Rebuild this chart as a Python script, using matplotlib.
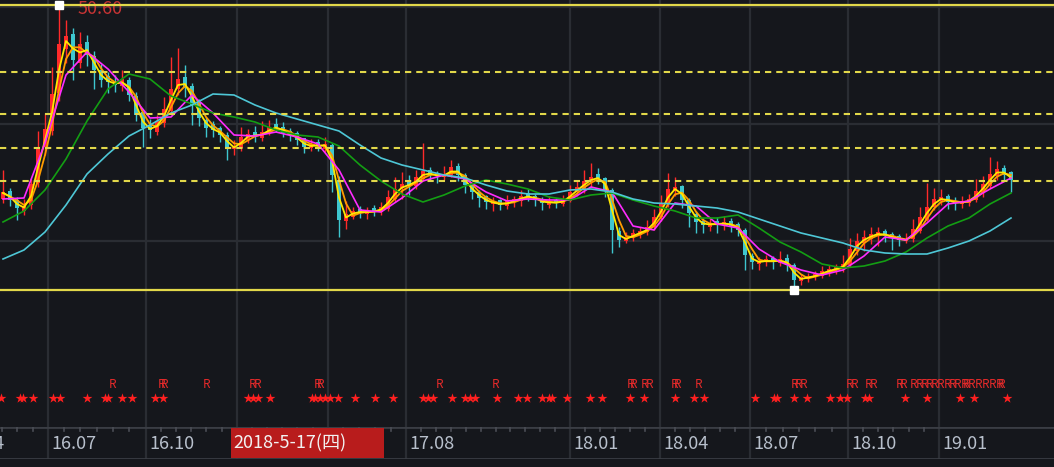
import numpy as np
import pandas as pd
import matplotlib
matplotlib.use('Agg')
import matplotlib.pyplot as plt
from matplotlib.patches import Rectangle

plt.rcParams['font.family'] = ['Noto Sans CJK SC', 'DejaVu Sans']

# K线数据 (每根约一周)
opens = [31.2, 31.9, 31.0, 30.0, 30.6, 32.8, 36.4, 38.0, 41.8, 46.2,
         47.6, 44.8, 46.8, 45.4, 44.0, 43.4, 42.8, 42.5, 43.0, 41.4,
         39.8, 38.5, 37.9, 38.8, 40.0, 42.2, 43.3, 42.4, 40.8, 39.0,
         38.6, 38.2, 37.5, 36.2, 36.3, 37.1, 37.8, 37.3, 37.9, 38.6,
         38.3, 37.9, 37.7, 37.2, 36.3, 36.8, 36.2, 36.5, 33.0, 29.0,
         29.4, 30.1, 29.7, 30.2, 29.9, 30.2, 31.2, 32.3, 32.9, 32.5,
         33.2, 34.0, 33.7, 33.4, 33.6, 34.4, 33.5, 32.5, 31.8, 31.4,
         30.7, 31.0, 30.5, 30.9, 31.0, 31.7, 31.4, 31.0, 30.6, 31.0,
         30.7, 31.0, 31.9, 32.2, 33.0, 33.6, 33.2, 32.0, 27.9, 27.0,
         27.4, 27.6, 27.9, 28.4, 29.4, 30.7, 32.0, 32.4, 31.0, 29.6,
         28.9, 28.4, 28.9, 28.6, 28.9, 28.6, 28.0, 25.4, 24.7, 24.9,
         25.2, 24.8, 25.2, 24.5, 23.0, 23.2, 23.4, 23.5, 23.9, 24.2,
         24.2, 24.6, 26.0, 26.8, 27.2, 27.5, 27.9, 27.6, 27.4, 27.0,
         27.2, 28.0, 29.1, 30.4, 31.0, 31.4, 30.9, 30.7, 30.8, 31.1,
         31.8, 32.5, 33.5, 34.2, 33.8]
highs = [34.1, 32.3, 31.4, 31.2, 33.2, 38.0, 39.8, 44.4, 50.6, 49.1,
         48.3, 47.9, 47.6, 46.0, 44.7, 43.9, 43.6, 44.1, 43.4, 41.9,
         40.0, 39.2, 39.6, 41.4, 45.4, 46.3, 44.6, 42.8, 41.2, 39.4,
         39.0, 38.5, 37.9, 37.1, 38.4, 38.2, 38.5, 39.0, 39.1, 39.3,
         38.9, 38.3, 38.0, 37.3, 37.2, 37.2, 37.4, 36.8, 33.5, 31.0,
         30.4, 30.5, 30.4, 30.6, 30.9, 32.1, 33.4, 33.9, 33.6, 34.1,
         36.8, 34.4, 34.0, 34.5, 35.1, 34.8, 33.8, 32.7, 32.1, 31.6,
         31.4, 31.2, 31.6, 31.5, 32.1, 32.2, 31.7, 31.4, 31.5, 31.3,
         31.6, 32.6, 33.0, 34.1, 34.8, 34.3, 33.4, 32.3, 28.4, 27.9,
         28.2, 28.4, 29.1, 30.2, 31.6, 33.8, 33.4, 32.6, 31.3, 30.0,
         29.3, 29.4, 29.4, 29.5, 29.3, 28.9, 28.3, 25.8, 25.4, 25.6,
         25.5, 26.0, 25.7, 24.8, 23.7, 23.8, 24.0, 24.5, 24.6, 24.7,
         25.6, 27.3, 27.8, 28.1, 28.4, 28.4, 28.2, 27.9, 27.7, 27.8,
         29.2, 30.4, 32.8, 32.3, 32.2, 31.7, 31.4, 31.5, 31.7, 33.2,
         33.5, 35.4, 35.0, 34.6, 34.0]
lows = [30.8, 30.5, 29.1, 29.6, 30.2, 32.4, 35.6, 37.6, 41.0, 44.8,
        43.1, 44.3, 44.5, 42.2, 42.4, 41.8, 41.9, 42.0, 41.0, 39.0,
        36.4, 37.3, 37.6, 38.4, 39.8, 41.6, 41.4, 38.6, 38.5, 37.4,
        37.4, 36.9, 35.1, 35.6, 36.0, 36.8, 36.9, 37.0, 37.6, 37.9,
        37.4, 37.0, 36.6, 35.8, 36.0, 36.0, 35.9, 31.9, 27.4, 28.2,
        29.2, 29.3, 29.2, 29.5, 29.6, 30.0, 30.9, 31.2, 31.6, 32.2,
        33.0, 33.1, 32.8, 33.1, 33.4, 33.0, 31.8, 31.2, 30.4, 30.2,
        30.0, 30.1, 30.2, 30.4, 30.5, 31.0, 30.5, 30.1, 30.3, 30.3,
        30.5, 30.9, 31.5, 31.8, 32.4, 32.7, 31.4, 25.8, 26.4, 26.8,
        27.0, 27.3, 27.6, 28.1, 29.0, 30.4, 31.5, 30.3, 28.4, 27.8,
        27.8, 28.0, 27.8, 28.1, 27.9, 27.5, 24.1, 24.2, 24.1, 24.5,
        24.2, 24.5, 24.0, 22.1, 22.6, 22.9, 23.1, 23.3, 23.5, 23.7,
        23.9, 24.4, 25.6, 26.0, 26.7, 26.5, 26.9, 26.1, 26.5, 26.8,
        26.9, 27.8, 29.0, 30.1, 30.6, 30.2, 30.1, 30.3, 30.5, 30.9,
        31.4, 32.3, 33.1, 33.0, 31.9]
closes = [31.8, 31.1, 30.3, 30.4, 32.6, 36.1, 38.1, 41.6, 46.6, 47.4,
          45.1, 46.6, 45.6, 44.1, 43.1, 42.9, 42.6, 43.1, 41.6, 39.6,
          38.3, 38.1, 38.9, 40.1, 42.1, 43.1, 42.3, 40.6, 39.3, 38.3,
          38.1, 37.6, 36.4, 36.3, 37.3, 37.6, 37.5, 37.8, 38.3, 38.4,
          37.8, 37.6, 37.1, 36.4, 36.6, 36.5, 36.6, 33.6, 29.1, 29.6,
          29.9, 29.9, 29.9, 30.0, 30.3, 31.3, 32.1, 32.6, 32.6, 33.3,
          33.9, 33.6, 33.5, 33.6, 34.3, 33.6, 32.6, 31.9, 31.3, 30.9,
          30.8, 30.6, 30.9, 31.1, 31.4, 31.5, 31.1, 30.8, 30.9, 30.8,
          31.1, 31.8, 32.3, 32.9, 33.3, 33.3, 32.1, 28.1, 27.1, 27.3,
          27.7, 27.9, 28.3, 29.3, 30.6, 32.1, 32.3, 31.1, 29.8, 28.9,
          28.6, 28.7, 28.7, 28.8, 28.5, 28.1, 25.6, 24.9, 24.9, 25.1,
          24.9, 25.1, 24.6, 23.1, 23.3, 23.4, 23.6, 23.9, 24.1, 24.3,
          24.6, 26.1, 26.9, 27.3, 27.6, 27.8, 27.5, 27.3, 27.1, 27.1,
          28.1, 29.3, 30.3, 31.1, 31.3, 30.9, 30.8, 30.9, 31.1, 31.9,
          32.6, 33.6, 34.1, 33.6, 33.1]

# 均线读数 (每3根K线一个点)
ma_step = 3
ma20 = [31.2, 31.3, 36.8, 43.6, 45.9, 44.2, 41.9, 39.3, 39.4, 41.6,
        39.8, 37.6, 37.5, 37.9, 37.4, 36.7, 34.1, 30.1, 29.9, 31.3,
        33.0, 33.6, 33.2, 31.9, 31.0, 31.2, 31.1, 31.1, 32.4, 31.9,
        28.5, 28.1, 30.8, 30.5, 28.7, 28.3, 26.2, 24.9, 24.1, 23.6,
        24.1, 25.5, 27.4, 27.1, 28.8, 30.7, 31.0, 32.2, 33.3]
ma60 = [28.9, 30.0, 32.1, 35.2, 39.0, 42.2, 43.7, 43.2, 41.5, 40.7,
        39.8, 39.4, 38.9, 38.1, 37.6, 37.4, 36.5, 34.6, 33.0, 31.7,
        30.9, 31.6, 32.5, 33.1, 32.7, 32.2, 31.4, 31.1, 31.6, 31.8,
        31.1, 30.5, 30.0, 29.3, 29.3, 29.6, 28.3, 26.9, 25.9, 24.7,
        24.3, 24.5, 25.0, 25.9, 27.3, 28.5, 29.3, 30.7, 31.8]
ma120 = [25.2, 26.1, 27.9, 30.6, 33.7, 35.7, 37.5, 38.6, 39.8, 40.6,
         41.7, 41.6, 40.6, 39.8, 39.2, 38.6, 38.0, 36.6, 35.3, 34.6,
         34.1, 33.6, 33.3, 32.6, 32.0, 31.7, 31.7, 32.1, 32.2, 31.9,
         31.2, 30.8, 30.7, 30.5, 30.3, 29.9, 29.2, 28.5, 27.8, 27.3,
         26.8, 26.1, 25.8, 25.7, 25.7, 26.3, 27.0, 28.0, 29.3]

fib_ratios = [0.236, 0.382, 0.5, 0.618]

# 17.01 / 17.04 被光标日期框盖住, 不显示文字
tick_pos = [-6.7, 6.4, 20.4, 33.4, 46.4, 57.6, 81.0, 93.9, 106.7, 120.7, 133.7]
tick_labels = ['16.04', '16.07', '16.10', '', '', '17.08',
               '18.01', '18.04', '18.07', '18.10', '19.01']

star_pos = [-0.3, 2.4, 2.9, 4.3, 7.1, 8.1, 12.0, 14.6, 15.0, 17.0, 18.4, 21.7,
            22.9, 35.0, 35.7, 36.4, 38.1, 44.1, 44.6, 45.3, 46.0, 46.7, 47.9,
            50.3, 53.1, 55.7, 60.0, 60.7, 61.4, 64.1, 66.0, 66.7, 67.4, 70.6,
            73.6, 74.9, 77.0, 78.0, 78.4, 80.6, 83.9, 85.6, 89.6, 91.6, 96.0,
            98.7, 100.1, 107.4, 110.1, 110.6, 113.0, 114.9, 118.1, 119.6,
            120.6, 123.1, 123.7, 128.9, 132.0, 136.7, 138.7, 143.4]
r_pos = [15.7, 22.6, 23.0, 29.1, 35.6, 36.3, 44.9, 45.3, 62.4, 70.3, 89.6,
         90.1, 91.7, 92.3, 95.9, 96.4, 99.4, 113.0, 113.7, 114.3, 120.9,
         121.6, 123.7, 124.4, 128.1, 128.7, 130.1, 130.9, 131.6, 132.3,
         133.0, 133.9, 134.9, 135.6, 136.3, 137.3, 137.7, 138.4, 139.4,
         140.3, 141.3, 142.3, 142.7]

cursor_label = '2018-5-17(四)'

BG = '#15171c'
GRID = '#2a2d33'
UP = '#ff2a2a'
DOWN = '#3ec6cf'
YEL = '#e2d84a'

fig = plt.figure(figsize=(10.54, 4.67), dpi=100, facecolor=BG)
H = 467.0
ax = fig.add_axes([0, (H - 355) / H, 1, 355 / H])
ax2 = fig.add_axes([0, (H - 427) / H, 1, 72 / H])
ax3 = fig.add_axes([0, (H - 459) / H, 1, 32 / H])

xlim = (-3 / 7, 1051 / 7)
for a in (ax, ax2, ax3):
    a.set_facecolor(BG)
    a.set_xlim(*xlim)
    for s in a.spines.values():
        s.set_visible(False)
    a.set_xticks([])
    a.set_yticks([])
    for p in tick_pos:
        a.axvline(p, color=GRID, lw=1.6, zorder=0)

# 主图
ax.set_ylim(15.6, 51.1)
for yv in [50.4, 38.7, 27.0]:
    ax.axhline(yv, color=GRID, lw=1.6, zorder=0)

x = np.arange(len(closes))
o = np.array(opens)
c = np.array(closes)
h = np.array(highs)
l = np.array(lows)
cols = np.where(c >= o, UP, DOWN)
ax.vlines(x, l, h, colors=cols, lw=1.0, zorder=2)
ax.bar(x, np.abs(c - o) + 0.08, bottom=np.minimum(o, c), width=0.5,
       color=cols, zorder=2)

ma5 = pd.Series(closes).rolling(2, min_periods=1).mean()
ma10 = pd.Series(closes).rolling(3, min_periods=1).mean()
ax.plot(x, ma10, color='#ff9c00', lw=1.3, zorder=3)
ax.plot(x, ma5, color='#ffe800', lw=1.3, zorder=3)
ma_x = np.arange(len(ma20)) * ma_step
ax.plot(ma_x, ma20, color='#ff2cff', lw=1.2, zorder=3)
ax.plot(ma_x, ma60, color='#139e13', lw=1.2, zorder=3)
ax.plot(ma_x, ma120, color='#4ec7d6', lw=1.2, zorder=3)

hi = h.max()
lo = l.min()
imax = int(h.argmax())
imin = int(l.argmin())
ax.axhline(hi, color=YEL, lw=1.6, zorder=4)
ax.axhline(lo, color=YEL, lw=1.6, zorder=4)
for r in fib_ratios:
    ax.axhline(hi - (hi - lo) * r, color=YEL, lw=1.5, ls=(0, (3, 2.4)), zorder=4)

ax.plot([imax], [hi], marker='s', ms=6, color='white', zorder=6, clip_on=False)
ax.plot([imin], [lo], marker='s', ms=6, color='white', zorder=6)
ax.text(imax + 2.7, hi - 0.45, '%.2f' % hi, color='#c83434', fontsize=13,
        va='center', ha='left')

# 信号栏
ax2.set_ylim(0, 1)
ax2.scatter(star_pos, [0.403] * len(star_pos), marker='*', s=55,
            color='#ff2020', linewidths=0, zorder=3)
for p in r_pos:
    ax2.text(p, 0.597, 'R', color='#e62a2a', fontsize=8.5, ha='center',
             va='center', zorder=3)

# 日期栏
ax3.set_ylim(0, 1)
ax3.axhline(1, color='#3a3d44', lw=2, zorder=1)
ax3.axhline(0.0, color='#3a3d44', lw=2, zorder=1)
for i in range(len(tick_pos) - 1):
    a0, b0 = tick_pos[i], tick_pos[i + 1]
    n = int(round((b0 - a0) * 7 / 15.5))
    for m in np.linspace(a0, b0, n + 1)[1:-1]:
        ax3.plot([m, m], [1, 0.86], color='#4a4d55', lw=1.2, zorder=1)
for p, t in zip(tick_pos, tick_labels):
    if t:
        ax3.text(p + 0.45, 0.48, t, color='#b8c0cc', fontsize=13, ha='left',
                 va='center', zorder=2, clip_on=False)

ax3.add_patch(Rectangle((32.6, 0.03), 21.8, 0.94, facecolor='#b81c1c',
                        edgecolor='none', zorder=5))
ax3.text(32.9, 0.48, cursor_label, color='#f2f2f2', fontsize=13, ha='left',
         va='center', zorder=6)

fig.savefig('out.png', dpi=100, facecolor=BG)
